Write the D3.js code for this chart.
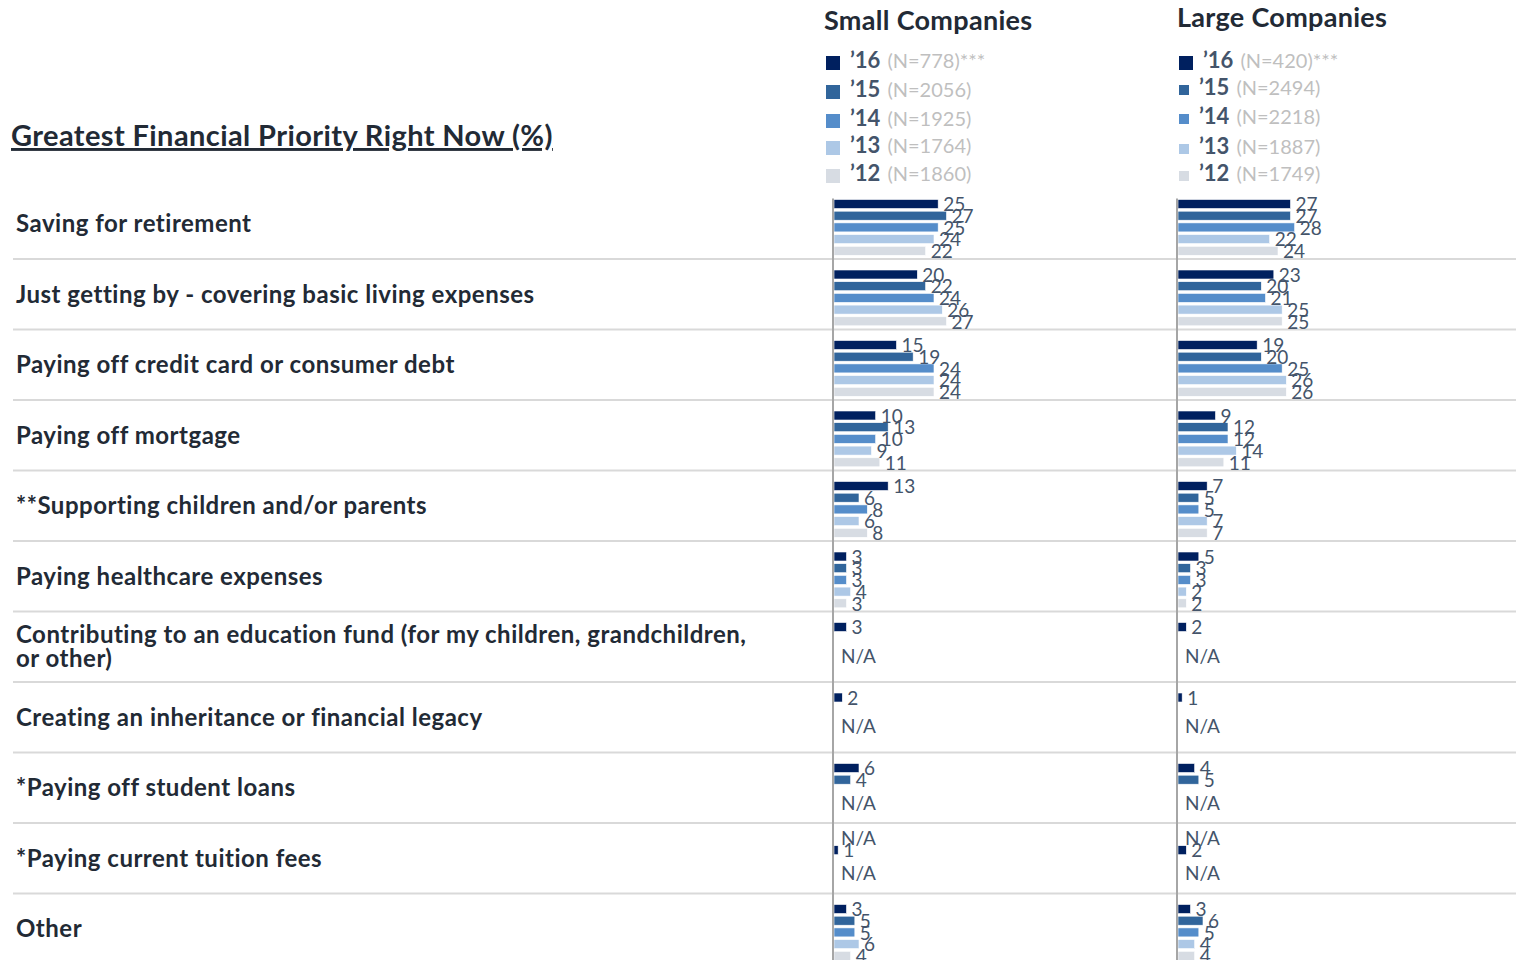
<!DOCTYPE html>
<html>
<head>
<meta charset="utf-8">
<script src="https://cdn.jsdelivr.net/npm/d3@7"></script>
<style>
  body { margin: 0; background: #fff; }
  svg { display: block; font-family: Lato, "Open Sans", sans-serif; }
</style>
</head>
<body>
<div class="chart"></div>
<script>
const width = 1516;
const height = 960;

// chart data
const categories = [
  "Saving for retirement",
  "Just getting by - covering basic living expenses",
  "Paying off credit card or consumer debt",
  "Paying off mortgage",
  "**Supporting children and/or parents",
  "Paying healthcare expenses",
  "Contributing to an education fund (for my children, grandchildren,|or other)",
  "Creating an inheritance or financial legacy",
  "*Paying off student loans",
  "*Paying current tuition fees",
  "Other"
];
const years = ["’16", "’15", "’14", "’13", "’12"];
const yearColors = ["#00205f", "#31659b", "#558dca", "#adc8e6", "#d7dce3"];
const smallN = ["(N=778)***", "(N=2056)", "(N=1925)", "(N=1764)", "(N=1860)"];
const largeN = ["(N=420)***", "(N=2494)", "(N=2218)", "(N=1887)", "(N=1749)"];

// null = N/A
const smallValues = [
  [25, 27, 25, 24, 22],
  [20, 22, 24, 26, 27],
  [15, 19, 24, 24, 24],
  [10, 13, 10, 9, 11],
  [13, 6, 8, 6, 8],
  [3, 3, 3, 4, 3],
  [3, null, null, null, null],
  [2, null, null, null, null],
  [6, 4, null, null, null],
  [1, null, null, null, null],
  [3, 5, 5, 6, 4]
];
const largeValues = [
  [27, 27, 28, 22, 24],
  [23, 20, 21, 25, 25],
  [19, 20, 25, 26, 26],
  [9, 12, 12, 14, 11],
  [7, 5, 5, 7, 7],
  [5, 3, 3, 2, 2],
  [2, null, null, null, null],
  [1, null, null, null, null],
  [4, 5, null, null, null],
  [2, null, null, null, null],
  [3, 6, 5, 4, 4]
];
// where the N/A notes sit (in bar slots) and slot shift of bars per row
const naSlots = [[], [], [], [], [], [], [2.5], [2.5], [3], [0, 3], []];
const slotShift = [0, 0, 0, 0, 0, 0, 0, 0, 0, 1, 0];

const textDark = "#222a35";
const labelColor = "#44546a";

const svg = d3.select(".chart")
  .append("svg")
  .attr("width", width)
  .attr("height", height);

const y = d3.scaleBand()
  .domain(categories)
  .range([188.5, 188.5 + categories.length * 70.5]);

const slot = d3.scaleBand()
  .domain(d3.range(5))
  .range([11, 66.8])
  .paddingInner(0.23);

const x = d3.scaleLinear().domain([0, 30]).range([0, 125]);

const slotCenter = (cat, s) => y(cat) + slot.range()[0] + s * slot.step() + slot.bandwidth() / 2;

// title
svg.append("text")
  .attr("x", 11)
  .attr("y", 146)
  .attr("fill", textDark)
  .style("font-size", "29px")
  .style("font-weight", 700)
  .style("letter-spacing", "0.4px")
  .style("text-decoration", "underline")
  .text("Greatest Financial Priority Right Now (%)");

// row separators
svg.selectAll(".sep")
  .data(categories.slice(1))
  .enter()
  .append("line")
  .attr("class", "sep")
  .attr("x1", 13)
  .attr("x2", width)
  .attr("y1", d => y(d))
  .attr("y2", d => y(d))
  .attr("stroke", "#d9d9d9")
  .attr("stroke-width", 2);

// category labels
const catLabel = svg.selectAll(".cat")
  .data(categories)
  .enter()
  .append("text")
  .attr("class", "cat")
  .attr("x", 16)
  .attr("y", d => y(d) + y.bandwidth() / 2)
  .attr("fill", textDark)
  .style("font-size", "24px")
  .style("font-weight", 700)
  .style("letter-spacing", "0.5px");

catLabel.each(function(d) {
  const lines = d.split("|");
  const t = d3.select(this);
  lines.forEach((line, i) => {
    t.append("tspan")
      .attr("x", 16)
      .attr("dy", i === 0 ? (0.35 - (lines.length - 1) * 0.5) + "em" : "1em")
      .text(line);
  });
});

const panels = [
  { title: "Small Companies", titleX: 824, titleY: 30, x0: 833, legendX: 826, textX: 22,
    legendY: [62, 91, 120, 147, 175], swatch: [14, 14, 14, 14, 14], values: smallValues, n: smallN },
  { title: "Large Companies", titleX: 1177, titleY: 27, x0: 1177, legendX: 1179, textX: 22,
    legendY: [62, 89, 118, 148, 175], swatch: [14, 10, 10, 10, 10], values: largeValues, n: largeN }
];

panels.forEach(p => {
  const g = svg.append("g");

  g.append("text")
    .attr("x", p.titleX)
    .attr("y", p.titleY)
    .attr("fill", textDark)
    .style("font-size", "27px")
    .style("font-weight", 700)
    .style("letter-spacing", "0.3px")
    .text(p.title);

  // legend
  const legend = g.selectAll(".legend")
    .data(years)
    .enter()
    .append("g")
    .attr("class", "legend")
    .attr("transform", (d, i) => `translate(${p.legendX},${p.legendY[i]})`);

  legend.append("rect")
    .attr("y", (d, i) => -p.swatch[i] / 2 + 1)
    .attr("width", (d, i) => p.swatch[i])
    .attr("height", (d, i) => p.swatch[i])
    .attr("fill", (d, i) => yearColors[i]);

  const lt = legend.append("text")
    .attr("x", (d, i) => p.textX - (14 - p.swatch[i]) + 2)
    .attr("dy", "0.35em");
  lt.append("tspan")
    .attr("fill", labelColor)
    .style("font-size", "22px")
    .style("font-weight", 700)
    .text(d => d);
  lt.append("tspan")
    .attr("dx", 7)
    .attr("fill", "#bfbfbf")
    .style("font-size", "20px")
    .text((d, i) => p.n[i]);

  // bars
  const bars = [];
  categories.forEach((cat, ci) => {
    p.values[ci].forEach((v, si) => {
      if (v !== null) bars.push({ cat, si, v, s: si + slotShift[ci] });
    });
  });

  g.selectAll(".bar")
    .data(bars)
    .enter()
    .append("rect")
    .attr("class", "bar")
    .attr("x", p.x0 + 1)
    .attr("y", d => y(d.cat) + slot(d.s))
    .attr("width", d => x(d.v))
    .attr("height", slot.bandwidth())
    .attr("fill", d => yearColors[d.si])
    .attr("stroke", "#fff")
    .attr("stroke-width", 0.6);

  g.selectAll(".val")
    .data(bars)
    .enter()
    .append("text")
    .attr("class", "val")
    .attr("x", d => p.x0 + 1 + x(d.v) + 5)
    .attr("y", d => y(d.cat) + slot(d.s) + slot.bandwidth() / 2)
    .attr("dy", "0.38em")
    .attr("fill", labelColor)
    .style("font-size", "19px")
    .text(d => d.v);

  // N/A notes
  const notes = [];
  categories.forEach((cat, ci) => naSlots[ci].forEach(s => notes.push({ cat, s })));
  g.selectAll(".na")
    .data(notes)
    .enter()
    .append("text")
    .attr("class", "na")
    .attr("x", p.x0 + 8)
    .attr("y", d => slotCenter(d.cat, d.s))
    .attr("dy", "0.35em")
    .attr("fill", labelColor)
    .style("font-size", "19px")
    .text("N/A");

  // axis line
  g.append("line")
    .attr("x1", p.x0)
    .attr("x2", p.x0)
    .attr("y1", y(categories[0]) + 10)
    .attr("y2", height)
    .attr("stroke", "#a6a6a6")
    .attr("stroke-width", 2);
});
</script>
</body>
</html>
